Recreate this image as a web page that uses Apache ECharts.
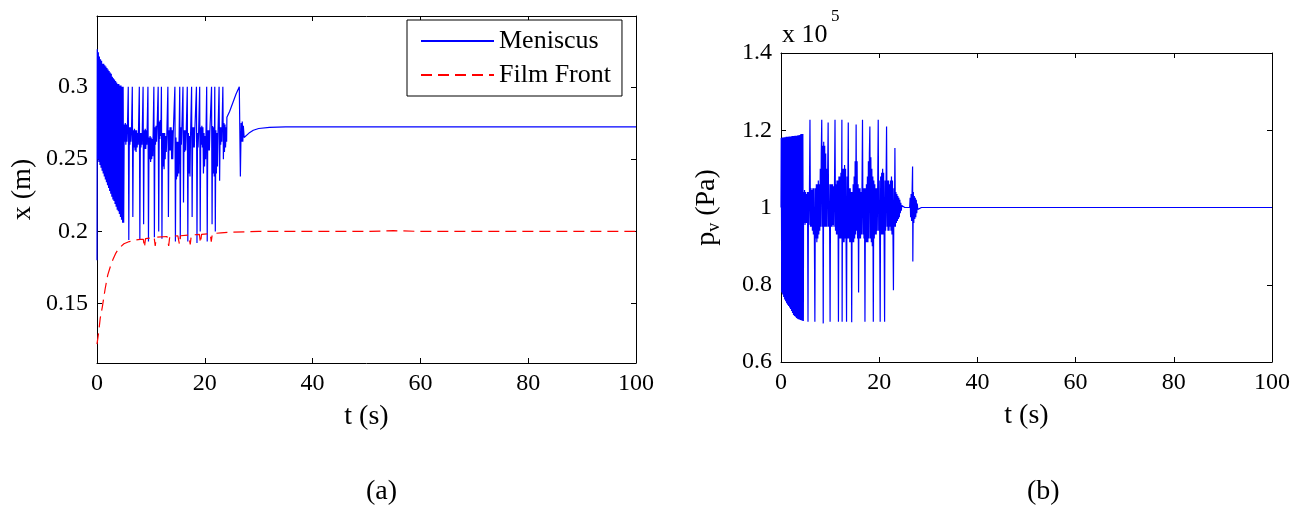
<!DOCTYPE html>
<html>
<head>
<meta charset="utf-8">
<script src="https://cdn.jsdelivr.net/npm/echarts@6/dist/echarts.min.js"></script>
<style>
  html, body { margin: 0; padding: 0; background: #fff; }
  #chart { width: 1306px; height: 514px; }
</style>
</head>
<body>
<div id="chart"></div>
<script>
// Time axis ticks (s), shared by both panels
const tTicks = [0, 20, 40, 60, 80, 100];
// Panel (a) y ticks (m) and panel (b) y ticks (x 1e5 Pa)
const xTicks = [0.15, 0.2, 0.25, 0.3];
const pTicks = [0.6, 0.8, 1, 1.2, 1.4];

// Meniscus position x (m) against t (s)
const meniscus = [
  [0,0.18],[0.05,0.326],[0.15,0.25],[0.25,0.324],[0.35,0.248],[0.45,0.321],[0.55,0.246],[0.65,0.319],
  [0.75,0.244],[0.85,0.318],[0.95,0.242],[1.05,0.316],[1.15,0.240],[1.25,0.316],[1.35,0.238],[1.45,0.315],
  [1.55,0.236],[1.65,0.314],[1.75,0.234],[1.85,0.313],[1.95,0.232],[2.05,0.312],[2.15,0.230],[2.25,0.311],
  [2.35,0.228],[2.45,0.310],[2.55,0.226],[2.65,0.309],[2.75,0.224],[2.85,0.307],[2.95,0.222],[3.05,0.306],
  [3.15,0.221],[3.25,0.305],[3.35,0.219],[3.45,0.304],[3.55,0.217],[3.65,0.303],[3.75,0.215],[3.85,0.302],
  [3.95,0.214],[4.05,0.302],[4.15,0.212],[4.25,0.301],[4.35,0.210],[4.45,0.301],[4.55,0.208],[4.65,0.300],
  [4.75,0.206],[4.85,0.300],[4.95,0.206],
  [5.05,0.274],[5.15,0.262],[5.25,0.275],[5.35,0.26],[5.45,0.274],[5.55,0.262],[5.65,0.272],
  [5.8,0.30],[5.9,0.194],[6.0,0.272],[6.1,0.26],[6.2,0.272],[6.3,0.262],[6.4,0.27],
  [6.55,0.30],[6.65,0.21],[6.75,0.27],[6.85,0.258],[6.95,0.271],[7.05,0.256],[7.15,0.27],[7.25,0.255],
  [7.35,0.27],[7.45,0.258],[7.55,0.268],[7.65,0.26],
  [7.85,0.30],[7.95,0.194],[8.05,0.268],[8.15,0.258],[8.25,0.268],[8.35,0.26],
  [8.55,0.30],[8.65,0.205],[8.75,0.27],[8.85,0.257],[8.95,0.271],[9.05,0.257],[9.15,0.27],[9.25,0.26],
  [9.45,0.30],[9.55,0.193],[9.65,0.265],[9.75,0.25],[9.85,0.266],[9.95,0.248],[10.05,0.265],[10.15,0.25],
  [10.25,0.264],[10.35,0.252],
  [10.55,0.30],[10.65,0.196],[10.75,0.272],[10.85,0.26],[10.95,0.273],[11.05,0.262],[11.15,0.272],
  [11.35,0.30],[11.45,0.20],[11.55,0.276],[11.65,0.264],[11.75,0.277],[11.85,0.266],
  [11.95,0.30],[12.05,0.195],[12.15,0.268],[12.25,0.245],[12.35,0.268],[12.45,0.243],[12.55,0.268],
  [12.65,0.25],[12.75,0.266],[12.85,0.255],[12.95,0.266],
  [13.15,0.30],[13.25,0.21],[13.35,0.27],[13.45,0.256],[13.55,0.272],[13.65,0.256],[13.75,0.272],
  [13.85,0.25],[13.95,0.27],[14.05,0.25],[14.15,0.268],
  [14.45,0.30],[14.55,0.193],[14.65,0.265],[14.75,0.236],[14.85,0.262],[14.95,0.238],[15.05,0.262],[15.15,0.24],
  [15.35,0.30],[15.45,0.195],[15.55,0.272],[15.65,0.26],[15.75,0.272],
  [15.95,0.30],[16.05,0.22],[16.15,0.27],[16.25,0.255],[16.35,0.27],[16.45,0.256],[16.55,0.268],
  [16.75,0.30],[16.85,0.193],[16.95,0.268],[17.05,0.24],[17.15,0.266],[17.25,0.238],[17.35,0.265],
  [17.55,0.30],[17.65,0.21],[17.75,0.272],[17.85,0.258],[17.95,0.272],[18.05,0.258],[18.15,0.27],
  [18.45,0.30],[18.55,0.192],[18.65,0.268],[18.75,0.258],[18.85,0.268],
  [19.05,0.30],[19.15,0.20],[19.25,0.272],[19.35,0.26],[19.45,0.273],[19.55,0.258],[19.65,0.272],
  [19.75,0.24],[19.85,0.268],[19.95,0.245],[20.05,0.266],[20.15,0.25],
  [20.35,0.30],[20.45,0.193],[20.55,0.27],[20.65,0.256],[20.75,0.27],[20.85,0.256],[20.95,0.27],
  [21.25,0.30],[21.35,0.205],[21.45,0.273],[21.55,0.24],[21.65,0.272],[21.75,0.238],
  [21.85,0.30],[21.95,0.20],[22.05,0.27],[22.15,0.24],[22.25,0.268],[22.35,0.245],[22.45,0.268],
  [22.65,0.30],[22.75,0.235],[22.85,0.272],[22.95,0.26],[23.05,0.272],[23.15,0.262],
  [23.35,0.30],[23.45,0.25],[23.55,0.275],[23.65,0.255],[23.75,0.274],[23.85,0.258],[23.95,0.272],
  [24.05,0.262],[24.1,0.279],
  [24.6,0.283],[25.2,0.289],[25.8,0.295],[26.4,0.30],[26.6,0.238],[26.75,0.275],[26.85,0.262],[26.95,0.276],
  [27.05,0.262],[27.15,0.273],[27.3,0.265],[27.6,0.266],[28.2,0.268],[29,0.270],[30,0.2712],[32,0.2720],
  [35,0.2723],[100,0.2723]
];

// Film front position x (m) against t (s)
const filmFront = [
  [0,0.122],[0.3,0.13],[0.6,0.14],[1.0,0.148],[1.5,0.16],[2.0,0.17],[2.5,0.176],[3.0,0.181],[3.5,0.185],
  [4.0,0.188],[5,0.1915],[6,0.193],[7,0.194],[8,0.1945],[8.6,0.1945],[8.8,0.189],[9.0,0.195],[10,0.1955],
  [10.6,0.196],[10.8,0.190],[11.0,0.196],[13,0.1965],[13.3,0.19],[13.5,0.1965],[15,0.197],[15.3,0.191],
  [15.5,0.197],[17,0.1975],[17.3,0.191],[17.5,0.1975],[19,0.198],[19.2,0.192],[19.4,0.198],[21,0.1985],
  [21.2,0.193],[21.4,0.1985],[23,0.199],[25,0.1995],[30,0.2],[50,0.2],[55,0.2005],[60,0.2],[100,0.2]
];

// Vapour pressure p_v (x 1e5 Pa) against t (s)
const pvE5 = [
  [0,1.0],[0.05,1.18],[0.15,0.78],[0.25,1.181],[0.35,0.775],[0.45,1.181],[0.55,0.768],[0.65,1.182],
  [0.75,0.762],[0.85,1.182],[0.95,0.757],[1.05,1.183],[1.15,0.752],[1.25,1.183],[1.35,0.748],[1.45,1.183],
  [1.55,0.745],[1.65,1.184],[1.75,0.741],[1.85,1.184],[1.95,0.737],[2.05,1.184],[2.15,0.732],[2.25,1.185],
  [2.35,0.727],[2.45,1.185],[2.55,0.722],[2.65,1.185],[2.75,0.719],[2.85,1.186],[2.95,0.717],[3.05,1.186],
  [3.15,0.714],[3.25,1.186],[3.35,0.712],[3.45,1.187],[3.55,0.711],[3.65,1.187],[3.75,0.710],[3.85,1.188],
  [3.95,0.709],[4.05,1.19],[4.15,0.708],[4.25,1.19],[4.35,0.707],[4.45,1.19],[4.55,0.706],
  [4.6,1.04],[4.7,0.96],[4.8,1.045],[4.9,0.955],[5.0,1.04],[5.1,0.96],[5.2,1.035],[5.3,0.96],[5.4,1.04],
  [5.5,0.704],[5.6,1.04],[5.7,0.955],[5.8,1.05],[5.9,1.227],[6.0,0.95],[6.1,1.05],[6.2,0.95],[6.3,1.045],
  [6.4,0.94],[6.5,1.05],[6.6,0.93],[6.7,1.05],[6.8,0.92],[6.9,0.704],[7.0,1.05],[7.1,0.92],[7.2,1.06],
  [7.3,0.91],[7.4,1.06],[7.5,0.92],[7.6,1.07],[7.7,0.93],[7.8,1.06],[7.9,0.94],[8.0,1.1],[8.1,0.95],
  [8.2,1.14],[8.3,1.227],[8.4,0.95],[8.5,1.16],[8.6,0.70],[8.7,1.17],[8.8,0.95],[8.9,1.16],[9.0,0.95],
  [9.1,1.14],[9.2,0.95],[9.3,1.1],[9.4,0.95],[9.5,1.08],[9.6,1.22],[9.7,0.95],[9.8,1.06],[9.9,0.95],
  [10.0,0.704],[10.1,1.06],[10.2,0.95],[10.3,1.06],[10.4,0.95],[10.5,1.06],[10.6,0.955],[10.7,1.055],
  [10.8,0.95],[10.9,1.06],[11.0,1.227],[11.1,0.94],[11.2,1.06],[11.3,0.93],[11.4,1.07],[11.5,0.93],
  [11.6,1.07],[11.7,0.704],[11.8,1.08],[11.9,0.92],[12.0,1.08],[12.1,0.92],[12.2,1.09],[12.3,0.92],
  [12.4,1.227],[12.45,0.704],[12.55,1.1],[12.65,0.91],[12.75,1.1],[12.85,0.91],[12.95,1.11],[13.05,0.92],
  [13.15,1.1],[13.25,0.92],[13.35,0.704],[13.45,1.08],[13.55,0.92],[13.7,1.22],[13.8,0.92],[13.9,1.05],
  [14.0,0.91],[14.1,1.05],[14.2,0.91],[14.3,1.04],[14.4,0.703],[14.5,1.04],[14.6,0.91],[14.7,1.06],
  [14.8,0.91],[14.9,1.08],[15.0,0.92],[15.1,1.12],[15.2,0.93],[15.3,1.215],[15.4,0.94],[15.5,1.12],
  [15.6,0.92],[15.7,1.06],[15.8,0.78],[15.9,1.05],[16.0,0.92],[16.1,1.05],[16.2,0.92],[16.3,1.04],
  [16.4,0.93],[16.5,1.05],[16.6,1.227],[16.7,0.93],[16.8,1.05],[16.9,0.92],[17.0,1.05],[17.1,0.704],
  [17.2,1.05],[17.3,0.91],[17.4,1.06],[17.5,0.91],[17.6,1.08],[17.7,0.91],[17.8,1.12],[17.9,0.92],
  [18.0,1.14],[18.1,1.21],[18.2,0.92],[18.3,1.13],[18.4,0.91],[18.5,1.1],[18.6,0.9],[18.7,1.08],
  [18.8,0.704],[18.9,1.07],[19.0,0.92],[19.1,1.06],[19.2,0.93],[19.3,1.05],[19.4,0.93],[19.5,1.05],
  [19.6,0.94],[19.7,1.06],[19.8,1.227],[19.9,0.94],[20.0,1.07],[20.1,0.93],[20.2,0.704],[20.3,1.08],
  [20.4,0.93],[20.5,1.09],[20.6,0.93],[20.7,1.1],[20.8,0.93],[20.9,1.09],[21.0,0.93],[21.1,0.704],
  [21.2,1.07],[21.3,0.94],[21.4,1.06],[21.5,1.21],[21.6,0.95],[21.7,1.07],[21.8,0.94],[21.9,1.07],
  [22.0,0.94],[22.1,1.06],[22.2,0.95],[22.3,1.07],[22.4,0.94],[22.5,1.08],[22.6,0.93],[22.7,1.07],
  [22.8,0.94],[22.9,0.786],[23.0,1.05],[23.1,0.95],[23.2,1.154],[23.3,0.95],[23.4,1.04],[23.5,0.96],
  [23.6,1.035],[23.7,0.965],[23.8,1.03],[23.9,0.97],[24.0,1.025],[24.1,0.975],[24.2,1.02],[24.3,0.985],
  [24.4,1.012],[24.5,0.992],[24.6,1.005],[24.7,1.0],[25.2,1.0],[26.2,1.0],[26.3,1.025],[26.4,0.975],[26.5,1.035],
  [26.6,0.965],[26.7,1.04],[26.8,1.106],[26.85,0.86],[26.95,1.04],[27.05,0.96],[27.15,1.03],[27.25,0.97],
  [27.35,1.025],[27.45,0.975],[27.55,1.02],[27.65,0.985],[27.75,1.01],[27.85,0.995],[28.0,1.0],
  [28.6,1.0],[100,1.0]
];

const serif = "'Liberation Serif', 'Times New Roman', serif";
const black = '#000';

function xAxisPair(grid, showName) {
  const common = {
    gridIndex: grid, type: 'value', min: 0, max: 100,
    axisLine: { onZero: false, lineStyle: { color: black, width: 1 } },
    axisTick: { inside: true, length: 5, customValues: tTicks, lineStyle: { color: black } },
    splitLine: { show: false }
  };
  return [
    Object.assign({}, common, {
      position: 'bottom',
      axisLabel: { customValues: tTicks, color: black, fontFamily: serif, fontSize: 24, margin: 9 },
      name: showName, nameLocation: 'middle', nameGap: 40, nameMoveOverlap: false,
      nameTextStyle: { color: black, fontFamily: serif, fontSize: 28 }
    }),
    Object.assign({}, common, { position: 'top', axisLabel: { show: false } })
  ];
}

function yAxisPair(grid, lo, hi, ticks, name, gap, rich) {
  const common = {
    gridIndex: grid, type: 'value', min: lo, max: hi,
    axisLine: { onZero: false, lineStyle: { color: black, width: 1 } },
    axisTick: { inside: true, length: 5, customValues: ticks, lineStyle: { color: black } },
    splitLine: { show: false }
  };
  const nts = { color: black, fontFamily: serif, fontSize: 28 };
  if (rich) nts.rich = rich;
  return [
    Object.assign({}, common, {
      position: 'left',
      axisLabel: { customValues: ticks, color: black, fontFamily: serif, fontSize: 24, margin: 9 },
      name: name, nameLocation: 'middle', nameGap: gap, nameRotate: 90, nameMoveOverlap: false,
      nameTextStyle: nts
    }),
    Object.assign({}, common, { position: 'right', axisLabel: { show: false } })
  ];
}

const chart = echarts.init(document.getElementById('chart'), null, { renderer: 'canvas' });

chart.setOption({
  animation: false,
  backgroundColor: '#fff',
  grid: [
    { left: 97, top: 16, width: 539, height: 347 },
    { left: 781, top: 53, width: 491, height: 309 }
  ],
  xAxis: [...xAxisPair(0, 't (s)'), ...xAxisPair(1, 't (s)')],
  yAxis: [
    ...yAxisPair(0, 0.109, 0.349, xTicks, 'x (m)', 60),
    ...yAxisPair(1, 0.6, 1.4, pTicks, '{i|p}{s|v}{i| (Pa)}', 58, {
      i: { fontFamily: serif, fontSize: 28, color: black },
      s: { fontFamily: serif, fontSize: 18, color: black, padding: [14, 0, 0, 0] }
    })
  ],
  legend: {
    data: ['Meniscus', 'Film Front'],
    orient: 'vertical',
    left: 407, top: 20,
    padding: [8, 11, 8, 13],
    itemGap: 8,
    itemWidth: 73, itemHeight: 14,
    borderColor: black, borderWidth: 1,
    backgroundColor: '#fff',
    itemStyle: { color: 'transparent', borderColor: 'transparent', borderWidth: 0 },
    textStyle: { color: black, fontFamily: serif, fontSize: 26 }
  },
  graphic: [
    { type: 'text', left: 782, top: 22, style: { text: 'x 10', font: "26px 'Liberation Serif', serif", fill: black } },
    { type: 'text', left: 831, top: 8, style: { text: '5', font: "17px 'Liberation Serif', serif", fill: black } },
    { type: 'text', left: 366, top: 478, style: { text: '(a)', font: "28px 'Liberation Serif', serif", fill: black, textAlign: 'center' } },
    { type: 'text', left: 1027, top: 478, style: { text: '(b)', font: "28px 'Liberation Serif', serif", fill: black, textAlign: 'center' } }
  ],
  series: [
    {
      name: 'Meniscus', type: 'line', xAxisIndex: 0, yAxisIndex: 0,
      data: meniscus, showSymbol: false, symbol: 'none',
      lineStyle: { color: '#0000ff', width: 1.2 }, itemStyle: { color: '#0000ff' }, z: 3
    },
    {
      name: 'Film Front', type: 'line', xAxisIndex: 0, yAxisIndex: 0,
      data: filmFront, showSymbol: false, symbol: 'none',
      lineStyle: { color: '#ff0000', width: 1.2, type: [11, 6] }, itemStyle: { color: '#ff0000' }, z: 4
    },
    {
      name: 'pv', type: 'line', xAxisIndex: 2, yAxisIndex: 2,
      data: pvE5, showSymbol: false, symbol: 'none',
      lineStyle: { color: '#0000ff', width: 1.2 }, itemStyle: { color: '#0000ff' }
    }
  ]
});
</script>
</body>
</html>
